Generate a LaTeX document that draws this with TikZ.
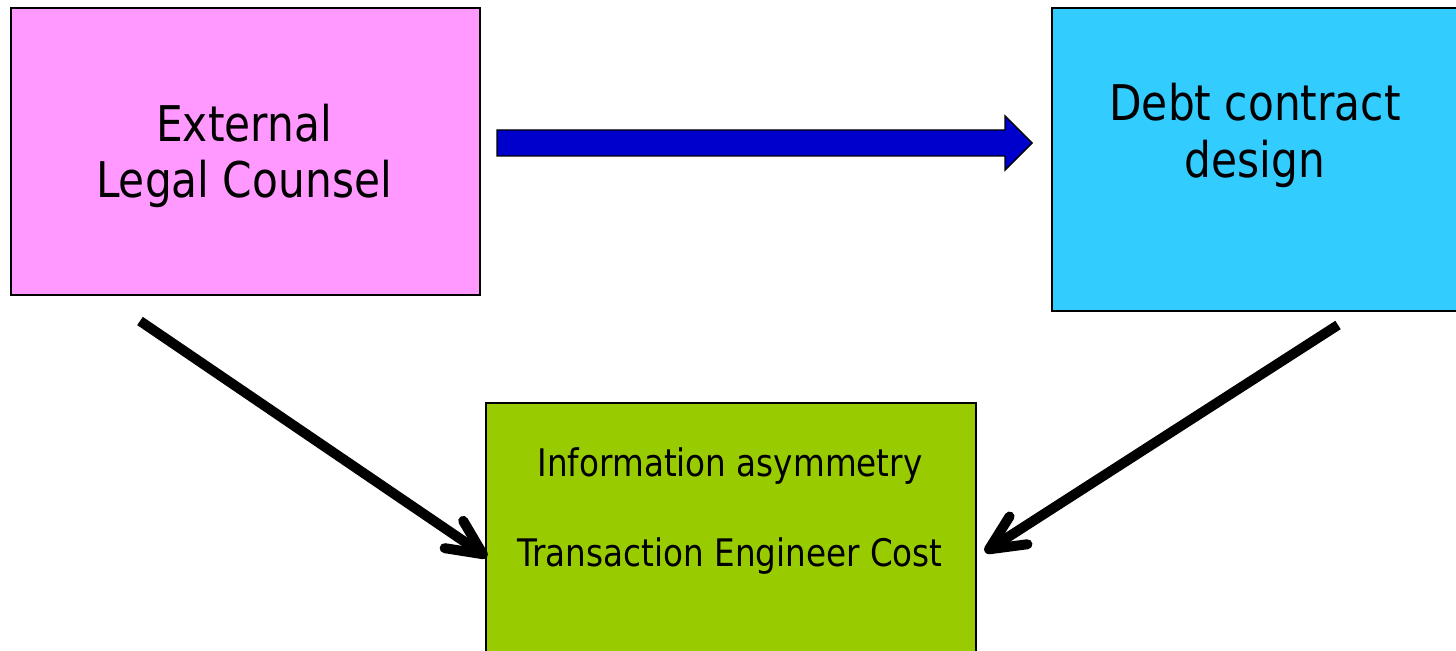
\documentclass[tikz,border=0pt]{standalone}
\usepackage{fontspec}
\setmainfont[FakeStretch=0.86]{DejaVu Sans}
\usetikzlibrary{arrows.meta,calc}

\definecolor{counselpink}{HTML}{FF99FF}
\definecolor{designblue}{HTML}{33CCFF}
\definecolor{costgreen}{HTML}{99CC00}
\definecolor{flowblue}{HTML}{0000CC}

\tikzset{
  box/.style={draw=black, line width=1.1pt, inner sep=0pt, anchor=north west},
  bigtext/.style={align=center, anchor=base, font=\fontsize{28}{32}\selectfont},
  smalltext/.style={anchor=base, font=\fontsize{21.6}{24}\selectfont},
  link/.style={line width=0.2cm, -{Straight Barb[length=0.7cm,width=0.66cm,round]}},
  flow/.style={draw=black, line width=0.8pt, fill=flowblue, line join=miter},
}

\begin{document}
\begin{tikzpicture}[x=0.02cm,y=-0.02cm]
 \clip (0,0) rectangle (1456,651);
 \fill[white] (0,0) rectangle (1456,651);

 % the three boxes
 \node[box, fill=counselpink, minimum width=9.38cm, minimum height=5.74cm] (counsel) at (10,7) {};
 \node[box, fill=designblue, minimum width=8.30cm, minimum height=6.06cm] (design) at (1051,7) {};
 \node[box, fill=costgreen, minimum width=9.80cm, minimum height=5.30cm] (cost) at (485,402) {};

 % box texts (base = last line)
 \node[bigtext] (counseltxt) at (244,198) {External\\Legal Counsel};
 \node[bigtext, font=\fontsize{28}{33}\selectfont] (designtxt) at (1255,178) {Debt contract\\design};
 \node[smalltext] (asymtxt) at (730,476) {Information asymmetry};
 \node[smalltext] (engtxt) at (730,566) {Transaction Engineer Cost};

 % block arrow between the top boxes
 \coordinate (flowtail) at (497,143);
 \coordinate (flowtip) at (1032,143);
 \draw[flow] ($(flowtail)+(0,-13)$) -- ($(flowtip)+(-27,-13)$) -- ($(flowtip)+(-27,-27)$)
   -- (flowtip) -- ($(flowtip)+(-27,27)$) -- ($(flowtip)+(-27,13)$) -- ($(flowtail)+(0,13)$) -- cycle;

 % links down to the cost box
 \coordinate (fromcounsel) at (140,321);
 \coordinate (fromdesign) at (1338,325);
 \draw[link] (fromcounsel) -- ($(cost.north west)+(2,155)$);
 \draw[link] (fromdesign) -- ($(cost.north east)+(8,150)$);
\end{tikzpicture}
\end{document}
